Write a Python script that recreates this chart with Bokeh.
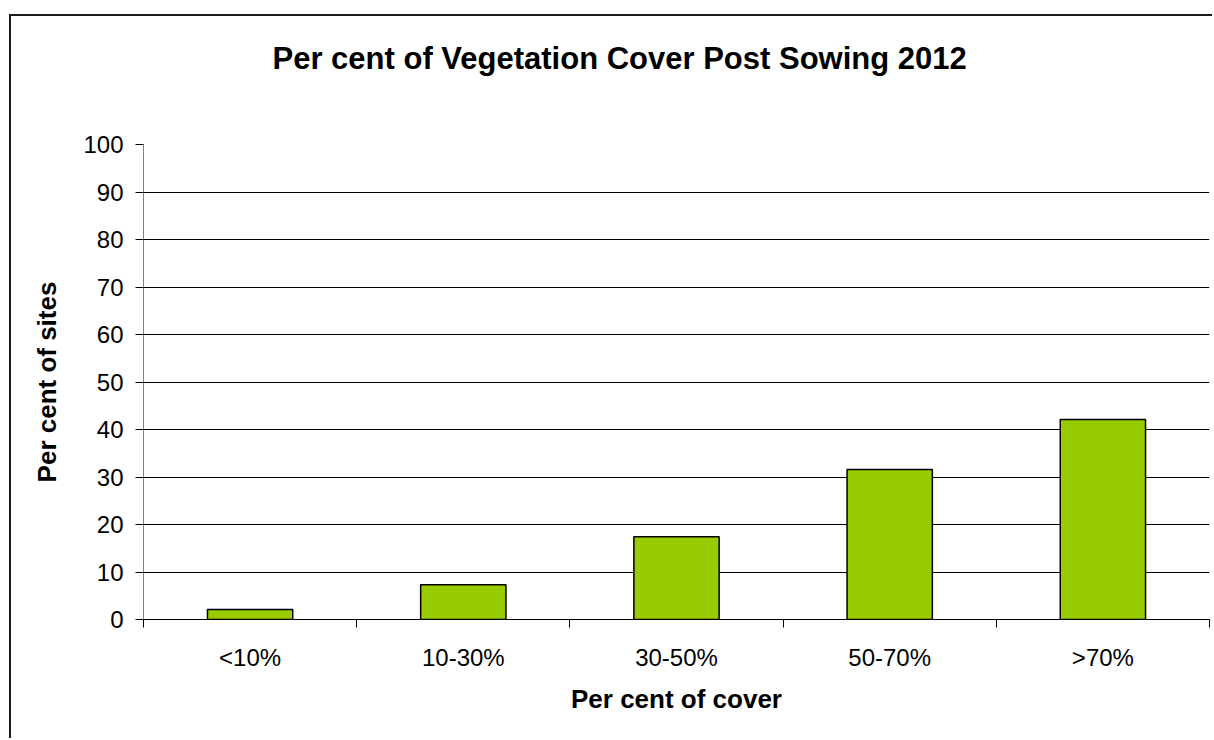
from bokeh.plotting import figure
from bokeh.models import FixedTicker, Range1d, ColumnDataSource, Title
from bokeh.embed import file_html
from bokeh.resources import INLINE

# Share of sites in each vegetation-cover class after sowing (2012)
cover_classes = ["<10%", "10-30%", "30-50%", "50-70%", ">70%"]
site_share = [2.1, 7.3, 17.4, 31.6, 42.1]
y_ticks = [0, 10, 20, 30, 40, 50, 60, 70, 80, 90, 100]

FONT = "Liberation Sans"

centers = [i + 0.5 for i in range(len(cover_classes))]
source = ColumnDataSource(data=dict(x=centers, share=site_share, label=cover_classes))

p = figure(
    width=1203, height=724,
    x_range=Range1d(0, len(cover_classes)),
    y_range=Range1d(0, 100),
    output_backend="svg", toolbar_location=None,
    min_border_left=132, min_border_right=5,
    min_border_top=128, min_border_bottom=121,
)
# Chart-area frame: top and left edges of the surrounding box
p.margin = (14, 0, 0, 9)
p.styles = {"border-top": "2px solid #1a1a1a", "border-left": "2px solid #1a1a1a"}
p.outline_line_color = None
p.background_fill_color = "white"
p.border_fill_color = "white"

# Title
p.title.text = "Per cent of Vegetation Cover Post Sowing 2012"
p.title.align = "left"
p.title.offset = 129
p.title.standoff = 10
p.title.text_font = FONT
p.title.text_font_size = "31px"
p.title.text_font_style = "bold"
p.title.text_color = "black"

# empty gap between the title and the plotting area
p.add_layout(Title(text=" ", text_font_size="1px", standoff=61), "above")

# Bars
p.vbar(x="x", top="share", width=0.4, source=source,
       fill_color="#99CC00", line_color="black", line_width=1.5)

# Y axis
yax = p.yaxis[0]
yax.ticker = FixedTicker(ticks=y_ticks)
yax.axis_line_color = "#808080"
yax.major_tick_line_color = "black"
yax.major_tick_out = 8
yax.major_tick_in = 0
yax.minor_tick_line_color = None
yax.major_label_standoff = 12
yax.major_label_text_font = FONT
yax.major_label_text_font_size = "24px"
yax.major_label_text_color = "black"
yax.axis_label = "Per cent of sites"
yax.axis_label_text_font = FONT
yax.axis_label_text_font_size = "26px"
yax.axis_label_text_font_style = "bold"
yax.axis_label_text_color = "black"
yax.axis_label_standoff = 18

# X axis: labels at class centres, tick marks at class boundaries
xax = p.xaxis[0]
xax.ticker = FixedTicker(ticks=centers, minor_ticks=list(range(len(cover_classes) + 1)))
xax.major_label_overrides = {c: lab for c, lab in zip(centers, cover_classes)}
xax.axis_line_color = "black"
xax.major_tick_line_color = None
xax.major_tick_out = 0
xax.major_tick_in = 0
xax.minor_tick_line_color = "black"
xax.minor_tick_out = 8
xax.minor_tick_in = 0
xax.major_label_standoff = 16
xax.major_label_text_font = FONT
xax.major_label_text_font_size = "24px"
xax.major_label_text_color = "black"
xax.axis_label = "Per cent of cover"
xax.axis_label_text_font = FONT
xax.axis_label_text_font_size = "26px"
xax.axis_label_text_font_style = "bold"
xax.axis_label_text_color = "black"
xax.axis_label_standoff = 10

# Grid
p.xgrid.grid_line_color = None
p.ygrid.ticker = FixedTicker(ticks=y_ticks)
p.ygrid.grid_line_color = "black"
p.ygrid.grid_line_width = 1

open("out.html", "w").write(file_html(p, INLINE))
